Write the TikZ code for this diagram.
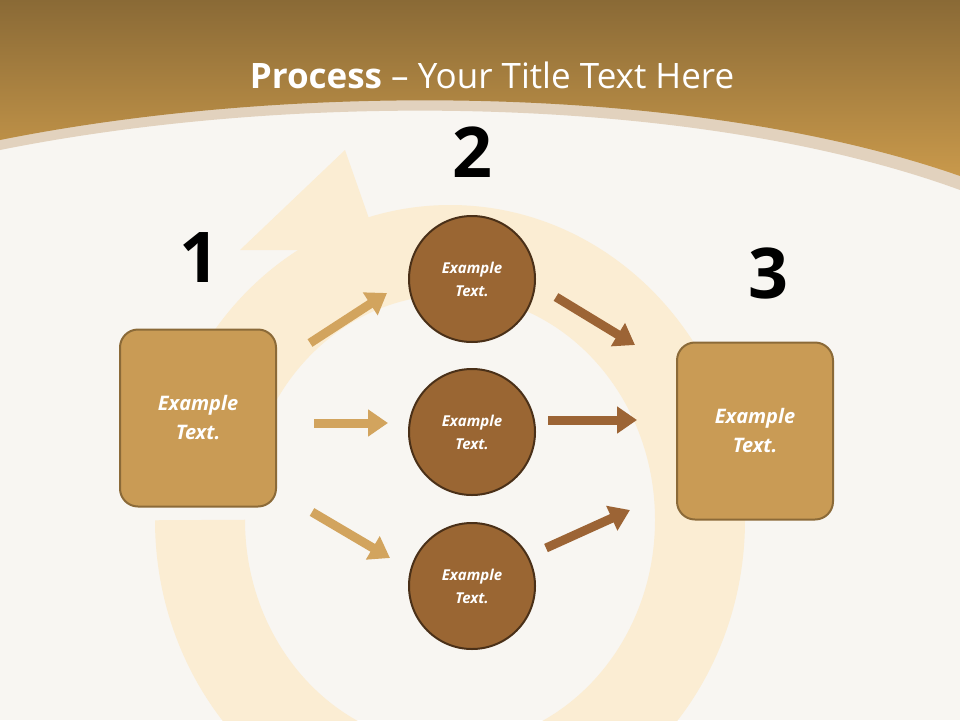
\documentclass[tikz,border=0pt]{standalone}
\usepackage{fontspec}
\setmainfont{Open Sans}
\usetikzlibrary{arrows.meta}
\definecolor{bgc}{HTML}{F8F6F2}
\definecolor{topd}{HTML}{8A6A36}
\definecolor{topl}{HTML}{C9994B}
\definecolor{band}{HTML}{E2D2BE}
\definecolor{boxf}{HTML}{C99B55}
\definecolor{boxd}{HTML}{8B6A38}
\definecolor{circf}{HTML}{9A6633}
\definecolor{circd}{HTML}{4A3018}
\definecolor{arrl}{HTML}{D2A45E}
\definecolor{arrr}{HTML}{9C6435}
\definecolor{ring}{HTML}{FBEDD3}
\tikzset{
  sq/.style={draw=boxd,line width=2pt,fill=boxf,rounded corners=18pt,minimum width=156pt,minimum height=177pt,text=white,font=\bfseries\itshape\fontsize{20}{29}\selectfont,align=center},
  circ/.style={circle,draw=circd,line width=2pt,fill=circf,minimum size=126pt,text=white,font=\bfseries\itshape\fontsize{15}{23}\selectfont,align=center},
  num/.style={font=\bfseries\fontsize{70}{76}\selectfont,text=black},
  blk/.style={line width=9pt,-{Triangle[length=20pt,width=26pt]}},
}
\begin{document}
\begin{tikzpicture}[x=1pt,y=-1pt]
\useasboundingbox (0,0) rectangle (960,720);
\fill[bgc] (0,0) rectangle (960,720);
% decorative ring
\draw[ring,line width=90pt] (200,520) arc[start angle=180,end angle=-150,x radius=250,y radius=270];
\fill[ring] (240,250) -- (345,150) -- (380,250) -- cycle;
% banner
\fill[band] (0,0) -- (960,0) -- (960,190) .. controls (700,95) and (300,90) .. (0,150) -- cycle;
\shade[top color=topd,bottom color=topl] (0,0) -- (960,0) -- (960,176) .. controls (700,85) and (300,80) .. (0,140) -- cycle;
\node[text=white,font=\fontsize{35}{40}\selectfont] (title) at (492,75) {\textbf{Process} – Your Title Text Here};
\node[num] (n1) at (199,258) {1};
\node[num] (n2) at (472,152) {2};
\node[num] (n3) at (768,273) {3};
\node[sq] (b1) at (198,418) {Example\\Text.};
\node[sq] (b3) at (755,431) {Example\\Text.};
\node[circ] (c1) at (472,279) {Example\\Text.};
\node[circ] (c2) at (472,432) {Example\\Text.};
\node[circ] (c3) at (472,586) {Example\\Text.};
\coordinate (a1s) at (310,343); \coordinate (a1e) at (387,293);
\coordinate (a2s) at (314,423); \coordinate (a2e) at (388,423);
\coordinate (a3s) at (312,512); \coordinate (a3e) at (390,558);
\coordinate (r1s) at (556,297); \coordinate (r1e) at (635,345);
\coordinate (r2s) at (548,420); \coordinate (r2e) at (637,420);
\coordinate (r3s) at (546,548); \coordinate (r3e) at (630,510);
\draw[blk,arrl] (a1s) -- (a1e);
\draw[blk,arrl] (a2s) -- (a2e);
\draw[blk,arrl] (a3s) -- (a3e);
\draw[blk,arrr] (r1s) -- (r1e);
\draw[blk,arrr] (r2s) -- (r2e);
\draw[blk,arrr] (r3s) -- (r3e);
\end{tikzpicture}
\end{document}
